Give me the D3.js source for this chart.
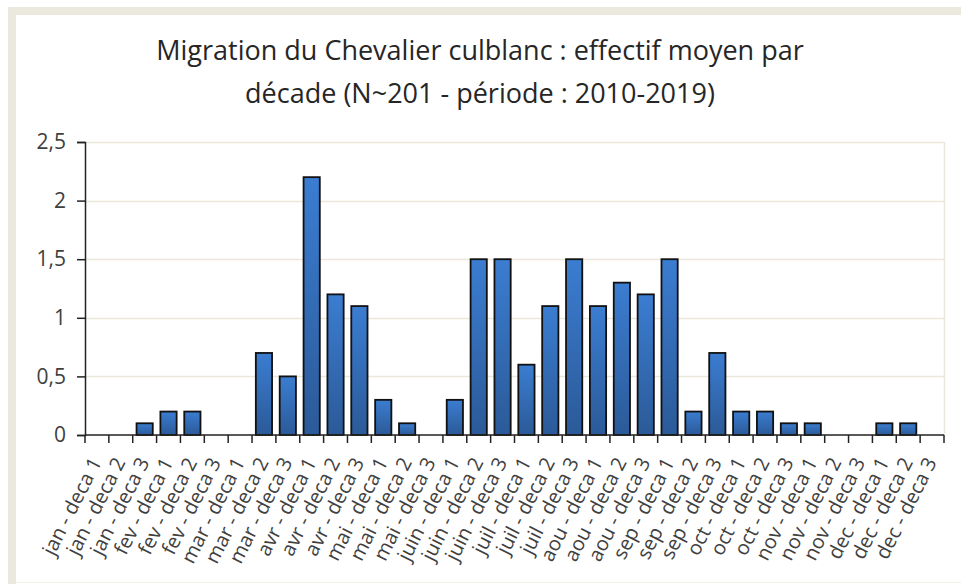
<!DOCTYPE html>
<html lang="fr">
<head>
    <meta charset="UTF-8">
    <title>Migration du Chevalier culblanc</title>
    <script src="https://d3js.org/d3.v7.min.js"></script>
    <style>
        body {
            margin: 0;
            background: #ffffff;
        }
        svg {
            display: block;
            font-family: 'Open Sans', sans-serif; /* closest to Calibri we have */
        }
    </style>
</head>
<body>
<div id="chart"></div>
<script>
    // decades (3 per month) and mean counts
    var months = ["jan", "fev", "mar", "avr", "mai", "juin", "juil", "aou", "sep", "oct", "nov", "dec"];
    var decades = ["deca 1", "deca 2", "deca 3"];
    var categories = [];
    months.forEach(function (m) {
        decades.forEach(function (d) { categories.push(m + " - " + d); });
    });
    var values = [
        0, 0, 0.1,      // jan
        0.2, 0.2, 0,    // fev
        0, 0.7, 0.5,    // mar
        2.2, 1.2, 1.1,  // avr
        0.3, 0.1, 0,    // mai
        0.3, 1.5, 1.5,  // juin
        0.6, 1.1, 1.5,  // juil
        1.1, 1.3, 1.2,  // aou
        1.5, 0.2, 0.7,  // sep
        0.2, 0.2, 0.1,  // oct
        0.1, 0, 0,      // nov
        0.1, 0.1, 0     // dec
    ];
    var yTicks = [0, 0.5, 1, 1.5, 2, 2.5];
    var titleLines = [
        "Migration du Chevalier culblanc : effectif moyen par",
        "décade (N~201 - période : 2010-2019)"
    ];

    var width = 961, height = 584;
    var margin = {top: 142, right: 17, bottom: 149, left: 85};

    var svg = d3.select("#chart").append("svg")
        .attr("width", width)
        .attr("height", height);

    // frame (beige band on top and left like the screenshot)
    svg.append("rect").attr("x", 8).attr("y", 7).attr("width", width - 8).attr("height", 8).attr("fill", "#ebe8de");
    svg.append("rect").attr("x", 8).attr("y", 7).attr("width", 8).attr("height", height - 7).attr("fill", "#ebe8de");
    svg.append("line").attr("x1", 16).attr("x2", width).attr("y1", 582.5).attr("y2", 582.5)
        .attr("stroke", "#f1efe8");

    var defs = svg.append("defs");
    var grad = defs.append("linearGradient").attr("id", "barFill")
        .attr("x1", 0).attr("y1", 0).attr("x2", 0).attr("y2", 1);
    grad.append("stop").attr("offset", "0%").attr("stop-color", "#3b7dd1");
    grad.append("stop").attr("offset", "100%").attr("stop-color", "#2b5a98");

    var x = d3.scaleBand()
        .domain(categories)
        .range([margin.left, width - margin.right])
        .paddingInner(0.32)
        .paddingOuter(0.16);

    var y = d3.scaleLinear()
        .domain([0, 2.5])
        .range([height - margin.bottom, margin.top]);

    var rows = categories.map(function (c, i) { return {cat: c, val: values[i]}; });

    // title
    svg.append("g").selectAll("text")
        .data(titleLines)
        .enter().append("text")
        .attr("x", 480)
        .attr("y", function (d, i) { return 60 + i * 43; })
        .attr("text-anchor", "middle")
        .attr("font-size", 27)
        .attr("fill", "#262626")
        .text(function (d) { return d; });

    // horizontal gridlines
    svg.append("g").selectAll("line")
        .data(yTicks.filter(function (t) { return t > 0; }))
        .enter().append("line")
        .attr("x1", margin.left)
        .attr("x2", width - margin.right)
        .attr("y1", function (d) { return Math.round(y(d)) + 0.5; })
        .attr("y2", function (d) { return Math.round(y(d)) + 0.5; })
        .attr("stroke", "#ebe7da")
        .attr("stroke-width", 1.5);

    // right border of plot area
    svg.append("line")
        .attr("x1", width - margin.right + 0.5).attr("x2", width - margin.right + 0.5)
        .attr("y1", margin.top).attr("y2", height - margin.bottom)
        .attr("stroke", "#ebe7da").attr("stroke-width", 1.5);

    // bars (zero values draw nothing)
    svg.append("g").selectAll("rect")
        .data(rows.filter(function (r) { return r.val > 0; }))
        .enter().append("rect")
        .attr("x", function (d) { return x(d.cat); })
        .attr("y", function (d) { return y(d.val); })
        .attr("width", x.bandwidth())
        .attr("height", function (d) { return y(0) - y(d.val); })
        .attr("fill", "url(#barFill)")
        .attr("stroke", "#111")
        .attr("stroke-width", 1.8);

    // y axis
    var yAxis = d3.axisLeft(y)
        .tickValues(yTicks)
        .tickSize(8)
        .tickPadding(11)
        .tickFormat(function (d) { return String(d).replace(".", ","); });
    var gy = svg.append("g")
        .attr("transform", "translate(" + margin.left + ",0)")
        .call(yAxis);
    gy.select(".domain").attr("stroke", "#222").attr("stroke-width", 1.5);
    gy.selectAll(".tick line").attr("stroke", "#222").attr("stroke-width", 1.5);
    gy.selectAll(".tick text")
        .attr("font-size", 21)
        .attr("font-family", "'Open Sans', sans-serif")
        .attr("fill", "#404040");

    // x axis: line plus ticks between categories
    var step = x.step();
    var boundaries = d3.range(categories.length + 1);
    var gx = svg.append("g");
    gx.append("line")
        .attr("x1", margin.left).attr("x2", width - margin.right)
        .attr("y1", y(0)).attr("y2", y(0))
        .attr("stroke", "#222").attr("stroke-width", 1.5);
    gx.selectAll("line.tick")
        .data(boundaries)
        .enter().append("line")
        .attr("class", "tick")
        .attr("x1", function (d) { return margin.left + d * step; })
        .attr("x2", function (d) { return margin.left + d * step; })
        .attr("y1", y(0)).attr("y2", y(0) + 8)
        .attr("stroke", "#222").attr("stroke-width", 1.5);

    gx.selectAll("text")
        .data(categories)
        .enter().append("text")
        .attr("transform", function (d) {
            var cx = x(d) + x.bandwidth() / 2 - 1;
            return "translate(" + cx + "," + (y(0) + 24) + ") rotate(-63)";
        })
        .attr("text-anchor", "end")
        .attr("dy", "0.35em")
        .attr("font-size", 20)
        .attr("fill", "#404040")
        .text(function (d) { return d; });
</script>
</body>
</html>
